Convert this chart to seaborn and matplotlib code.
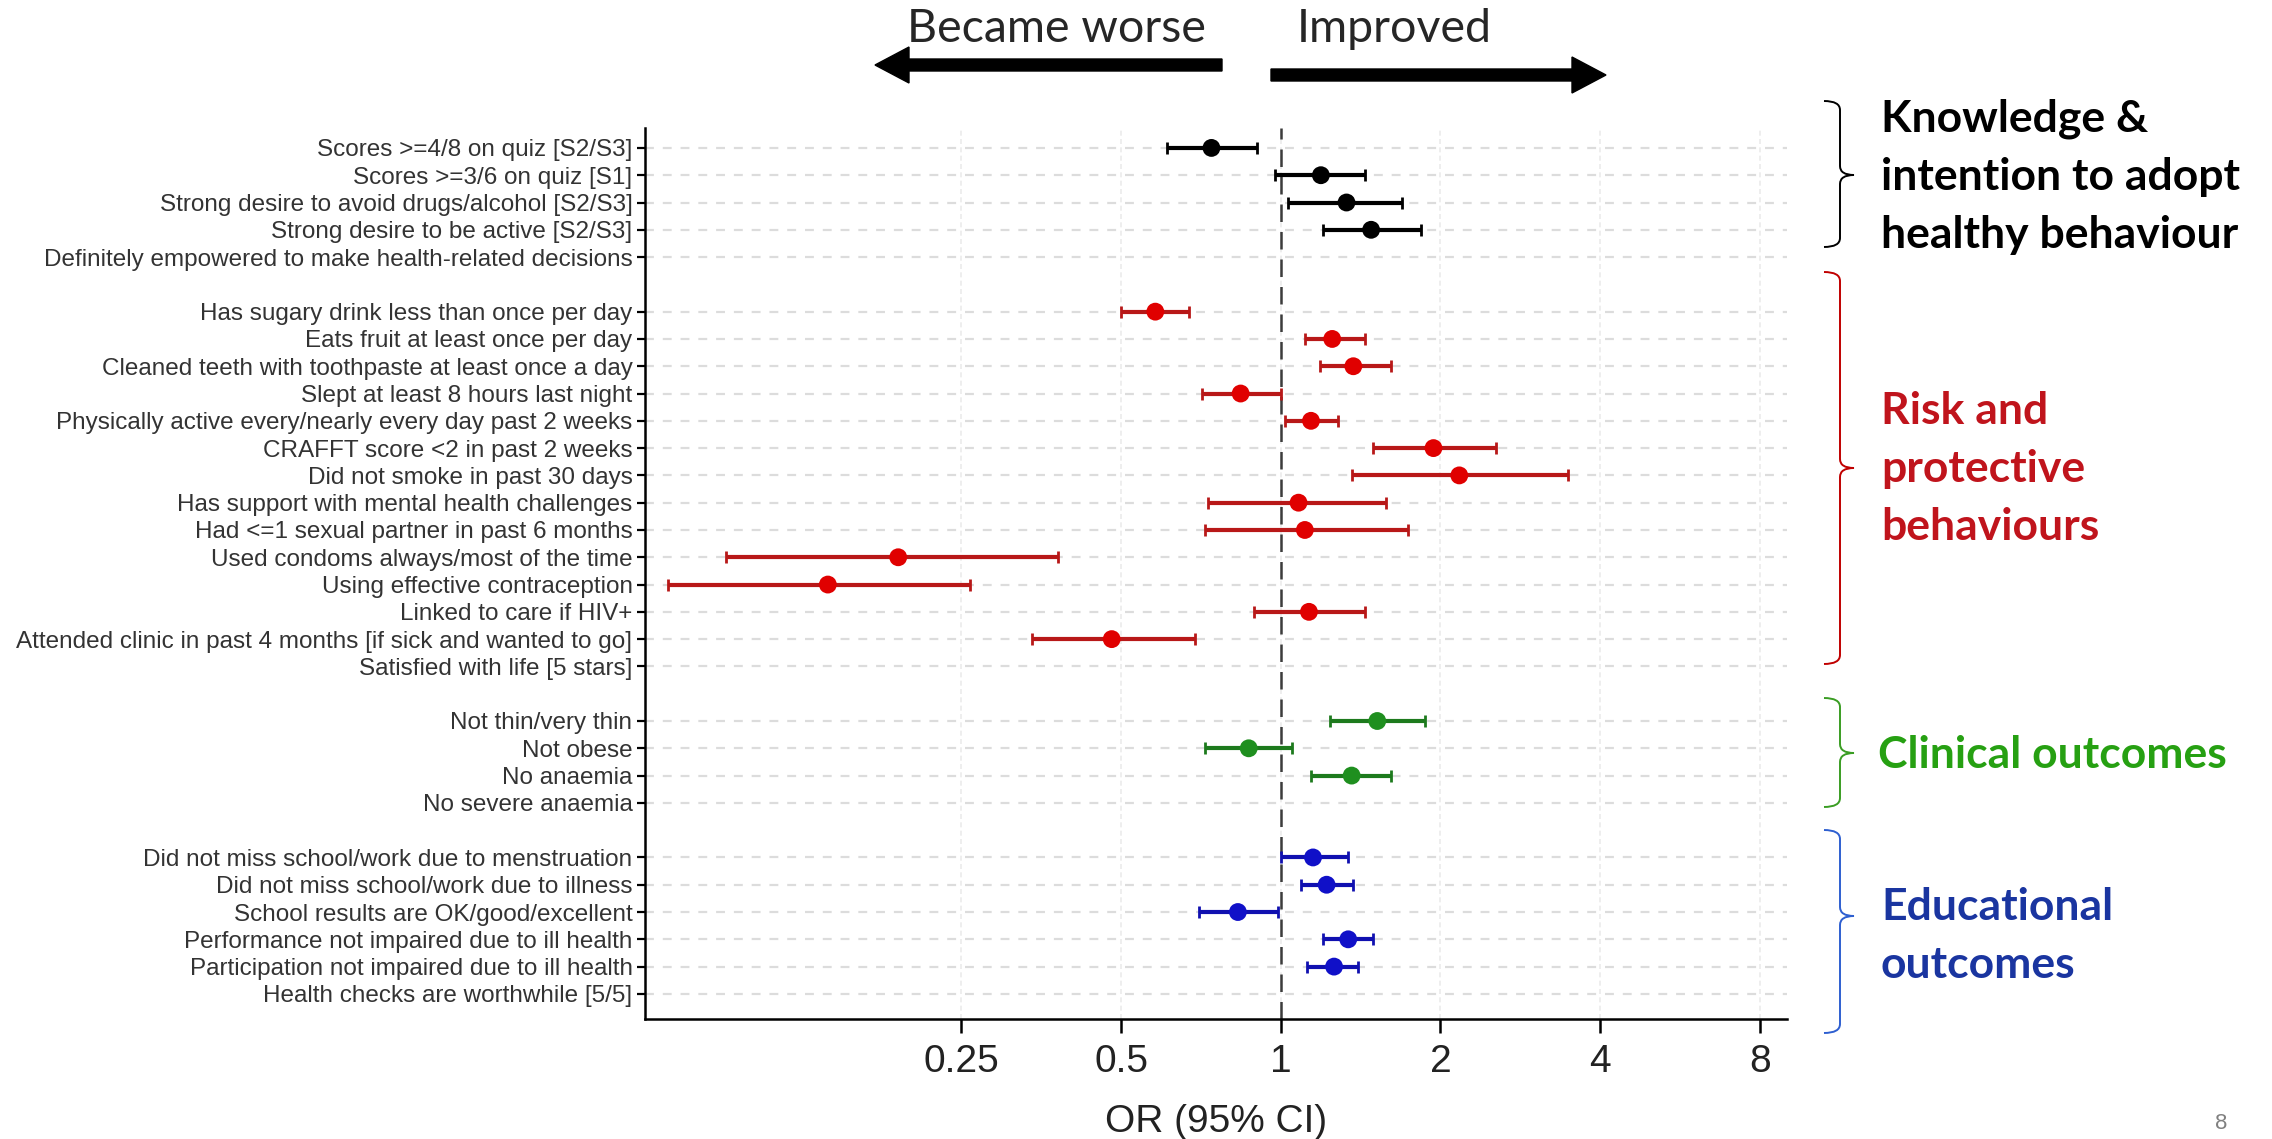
import numpy as np
import pandas as pd
import matplotlib
matplotlib.use("Agg")
import matplotlib.pyplot as plt
import seaborn as sns
from matplotlib.path import Path
from matplotlib.patches import PathPatch, FancyArrow

# ---------------- data ----------------
knowledge_labels = ["Scores >=4/8 on quiz [S2/S3]", "Scores >=3/6 on quiz [S1]",
                    "Strong desire to avoid drugs/alcohol [S2/S3]", "Strong desire to be active [S2/S3]",
                    "Definitely empowered to make health-related decisions"]
knowledge_or = [0.74, 1.19, 1.33, 1.48, np.nan]
knowledge_lo = [0.61, 0.975, 1.03, 1.20, np.nan]
knowledge_hi = [0.90, 1.44, 1.69, 1.84, np.nan]

risk_labels = ["Has sugary drink less than once per day", "Eats fruit at least once per day",
               "Cleaned teeth with toothpaste at least once a day", "Slept at least 8 hours last night",
               "Physically active every/nearly every day past 2 weeks", "CRAFFT score <2 in past 2 weeks",
               "Did not smoke in past 30 days", "Has support with mental health challenges",
               "Had <=1 sexual partner in past 6 months", "Used condoms always/most of the time",
               "Using effective contraception", "Linked to care if HIV+",
               "Attended clinic in past 4 months [if sick and wanted to go]", "Satisfied with life [5 stars]"]
risk_or = [0.58, 1.25, 1.37, 0.84, 1.14, 1.94, 2.17, 1.08, 1.11, 0.19, 0.14, 1.13, 0.48, np.nan]
risk_lo = [0.50, 1.11, 1.185, 0.71, 1.02, 1.49, 1.36, 0.73, 0.72, 0.090, 0.070, 0.89, 0.34, np.nan]
risk_hi = [0.67, 1.44, 1.61, 1.00, 1.28, 2.55, 3.48, 1.58, 1.74, 0.38, 0.26, 1.44, 0.69, np.nan]

clinical_labels = ["Not thin/very thin", "Not obese", "No anaemia", "No severe anaemia"]
clinical_or = [1.52, 0.87, 1.36, np.nan]
clinical_lo = [1.24, 0.72, 1.14, np.nan]
clinical_hi = [1.87, 1.05, 1.61, np.nan]

edu_labels = ["Did not miss school/work due to menstruation", "Did not miss school/work due to illness",
              "School results are OK/good/excellent", "Performance not impaired due to ill health",
              "Participation not impaired due to ill health", "Health checks are worthwhile [5/5]"]
edu_or = [1.15, 1.22, 0.83, 1.34, 1.26, np.nan]
edu_lo = [1.00, 1.09, 0.70, 1.20, 1.12, np.nan]
edu_hi = [1.34, 1.37, 0.99, 1.49, 1.40, np.nan]

x_ticks = [0.25, 0.5, 1, 2, 4, 8]
x_tick_labels = ["0.25", "0.5", "1", "2", "4", "8"]

group_names = ["knowledge", "risk", "clinical", "edu"]
point_colors = {"knowledge": "#000000", "risk": "#e00000", "clinical": "#1f8f1f", "edu": "#1010c8"}
bar_colors = {"knowledge": "#000000", "risk": "#b81818", "clinical": "#1d7a1d", "edu": "#1010b0"}

# ---------------- assemble ----------------
groups = [(knowledge_labels, knowledge_or, knowledge_lo, knowledge_hi),
          (risk_labels, risk_or, risk_lo, risk_hi),
          (clinical_labels, clinical_or, clinical_lo, clinical_hi),
          (edu_labels, edu_or, edu_lo, edu_hi)]
rows = []
p = 0
for g, (labs, ors, los, his) in zip(group_names, groups):
    for lab, o, l, h in zip(labs, ors, los, his):
        rows.append(dict(group=g, label=lab, odds=o, lo=l, hi=h, pos=p))
        p += 1
    p += 1  # blank row between groups
df = pd.DataFrame(rows)

# ---------------- figure ----------------
sns.set_theme(style="white")
plt.rcParams["font.family"] = ["Liberation Sans", "DejaVu Sans"]

W, H = 2272, 1139
fig = plt.figure(figsize=(W / 100, H / 100), dpi=100)
ax = fig.add_axes([645 / W, 1 - 1019 / H, (1787 - 645) / W, (1019 - 128) / H])

ax.set_xscale("log", base=2)
ax.set_xlim(0.0633, 9.0)
ax.set_ylim(31.92, -0.73)

# gridlines
ax.yaxis.grid(True, color="#dcdcdc", lw=1.6, ls=(0, (4, 4)), zorder=0)
ax.xaxis.grid(True, color="#ebebeb", lw=1.2, ls=(0, (3, 2)), zorder=0)
ax.axvline(1, color="#3c3c3c", lw=1.8, ls=(0, (7, 4)), zorder=2)

# CIs
for g in group_names:
    d = df[(df.group == g) & df.odds.notna()]
    ax.errorbar(d.odds, d.pos, xerr=[d.odds - d.lo, d.hi - d.odds], fmt="none",
                ecolor=bar_colors[g], elinewidth=3.0, capsize=4.0, capthick=2.0, zorder=3)

sns.scatterplot(data=df.dropna(subset=["odds"]), x="odds", y="pos", hue="group",
                palette=point_colors, s=165, edgecolor="none", legend=False, ax=ax, zorder=4)

ax.set_xticks(x_ticks)
ax.set_xticklabels(x_tick_labels, fontsize=28, color="#222222")
ax.xaxis.set_minor_locator(matplotlib.ticker.NullLocator())
ax.set_yticks(df.pos)
ax.set_yticklabels(df.label, fontsize=17.5, color="#333333")
ax.tick_params(axis="y", direction="out", length=6, width=1.6, color="black", pad=3, left=True)
ax.tick_params(axis="x", direction="out", length=10, width=1.8, color="black", pad=8, bottom=True)
ax.set_xlabel("OR (95% CI)", fontsize=28, color="#222222", labelpad=17)
ax.set_ylabel("")
for s in ["top", "right"]:
    ax.spines[s].set_visible(False)
for s in ["left", "bottom"]:
    ax.spines[s].set_color("black")
    ax.spines[s].set_linewidth(1.8)

# ---------------- annotations overlay (pixel coordinates) ----------------
ov = fig.add_axes([0, 0, 1, 1], facecolor="none")
ov.set_xlim(0, W)
ov.set_ylim(H, 0)
ov.axis("off")

ov.text(1056, 29, "Became worse", fontsize=33.5, family="Lato", ha="center", va="center")
ov.text(1394, 29, "Improved", fontsize=33.5, family="Lato", ha="center", va="center")
ov.add_patch(FancyArrow(1222, 65, 875 - 1222, 0, width=12, head_width=36, head_length=34,
                        length_includes_head=True, color="black"))
ov.add_patch(FancyArrow(1271, 75, 1606 - 1271, 0, width=12, head_width=36, head_length=34,
                        length_includes_head=True, color="black"))


def brace(y0, y1, ym, color, xh=1824, xv=1840, xt=1854, r=9):
    verts = [(xh, y0), (xv, y0), (xv, y0 + r), (xv, ym - r), (xv, ym), (xt, ym),
             (xv, ym), (xv, ym + r), (xv, y1 - r), (xv, y1), (xh, y1)]
    codes = [Path.MOVETO, Path.CURVE3, Path.CURVE3, Path.LINETO, Path.CURVE3, Path.CURVE3,
             Path.CURVE3, Path.CURVE3, Path.LINETO, Path.CURVE3, Path.CURVE3]
    ov.add_patch(PathPatch(Path(verts, codes), fc="none", ec=color, lw=1.4))


brace(101, 247, 175, "#000000")
brace(272, 664, 468, "#c00000")
brace(698, 807, 753, "#3a9d23")
brace(830, 1033, 916, "#2e5fd0")

tkw = dict(fontsize=32, family="Lato", fontweight="bold", ha="left", va="center")
for y, t in zip([119, 177, 235], ["Knowledge &", "intention to adopt", "healthy behaviour"]):
    ov.text(1881, y, t, color="#000000", **tkw)
for y, t in zip([411, 469, 527], ["Risk and", "protective", "behaviours"]):
    ov.text(1881, y, t, color="#c0141c", **tkw)
ov.text(1878, 755, "Clinical outcomes", color="#26a012", **tkw)
for y, t in zip([907, 965], ["Educational", "outcomes"]):
    ov.text(1881, y, t, color="#1a35a0", **tkw)
ov.text(2215, 1134, "8", fontsize=16, color="#808080", ha="left", va="bottom")

fig.savefig("out.png", dpi=100)
